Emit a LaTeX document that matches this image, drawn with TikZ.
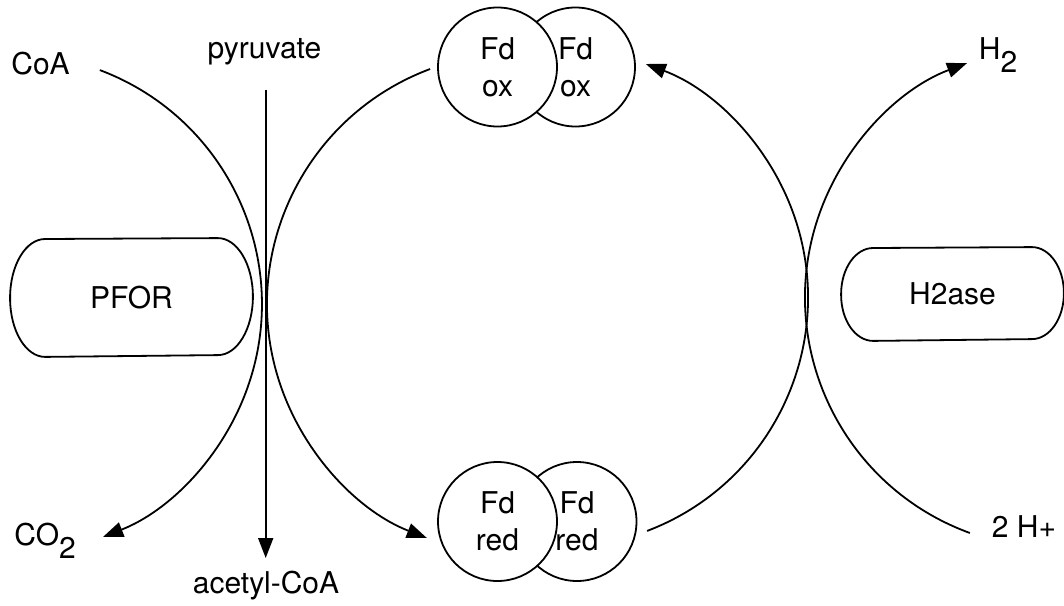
\documentclass[tikz,border=0pt]{standalone}
\usepackage{fontspec}
\setmainfont{TeX Gyre Heros}
\usetikzlibrary{arrows.meta,calc}
\begin{document}
\begin{tikzpicture}[x=1pt,y=-1pt,
  line width=1.8pt,
  every node/.style={font=\fontsize{30}{37}\selectfont, inner sep=0pt},
  lbl/.style={anchor=base west},
  lblc/.style={anchor=base},
  fd/.style={circle, draw, fill=white, minimum size=119pt, align=center},
  arr/.style={-{Triangle[length=20pt,width=15pt]}},
]
\useasboundingbox (0,0) rectangle (1064,605);

% enzymes
\node (pfor) at (131.5,297.5) [minimum width=241pt, minimum height=117pt] {PFOR};
\draw (pfor.west) arc[start angle=180,end angle=90,x radius=35pt,y radius=58.5pt]
  -- ($(pfor.north east)+(-35,0)$)
  arc[start angle=90,end angle=-90,x radius=35pt,y radius=58.5pt]
  -- ($(pfor.south west)+(35,0)$)
  arc[start angle=270,end angle=180,x radius=35pt,y radius=58.5pt] -- cycle;

\node (h2ase) at (952.5,294) [minimum width=221pt, minimum height=92pt] {H2ase};
\draw (h2ase.west) arc[start angle=180,end angle=90,x radius=32pt,y radius=46pt]
  -- ($(h2ase.north east)+(-32,0)$)
  arc[start angle=90,end angle=-90,x radius=32pt,y radius=46pt]
  -- ($(h2ase.south west)+(32,0)$)
  arc[start angle=270,end angle=180,x radius=32pt,y radius=46pt] -- cycle;

% labels
\node[lbl] (coa) at (10.5,74) {CoA};
\node[lblc] (pyr) at (264.5,58) {pyruvate};
\node[lbl] (co2) at (13.5,545) {CO\raisebox{-13pt}{2}};
\node[lblc] (acoa) at (266,593) {acetyl-CoA};
\node[lbl] (h2) at (978,59) {H\raisebox{-13pt}{2}};
\node[lbl] (hp) at (991,537) {2 H+};

% ferredoxins
\node[fd] (oxR) at (575.5,67) {Fd\\ox};
\node[fd] (oxL) at (497.5,67) {Fd\\ox};
\node[fd] (redR) at (577,521.5) {Fd\\red};
\node[fd] (redL) at (497.5,521.5) {Fd\\red};

% CoA -> CO2
\coordinate (c1) at (11.9,304.1);
\path (c1) ++(-69.4:250) coordinate (coaS);
\draw[arr] (coaS) arc[start angle=-69.4,end angle=68.6,radius=250];

% pyruvate -> acetyl-CoA
\coordinate (pyrS) at (265.7,90);
\coordinate (pyrE) at (265.7,558);
\draw[arr] (pyrS) -- (pyrE);

% Fd ox -> Fd red
\coordinate (c2) at (518,304.1);
\path (c2) ++(-110.5:251) coordinate (oxS);
\draw[arr] (oxS) arc[start angle=-110.5,end angle=-248.7,radius=251];

% Fd red -> Fd ox
\coordinate (c3) at (558.5,297.7);
\path (c3) ++(69.2:249.5) coordinate (redS);
\draw[arr] (redS) arc[start angle=69.2,end angle=-69.5,radius=249.5];

% 2 H+ -> H2
\coordinate (c4) at (1055.6,297.5);
\path (c4) ++(110:250.6) coordinate (hpS);
\draw[arr] (hpS) arc[start angle=110,end angle=249.3,radius=250.6];
\end{tikzpicture}
\end{document}
